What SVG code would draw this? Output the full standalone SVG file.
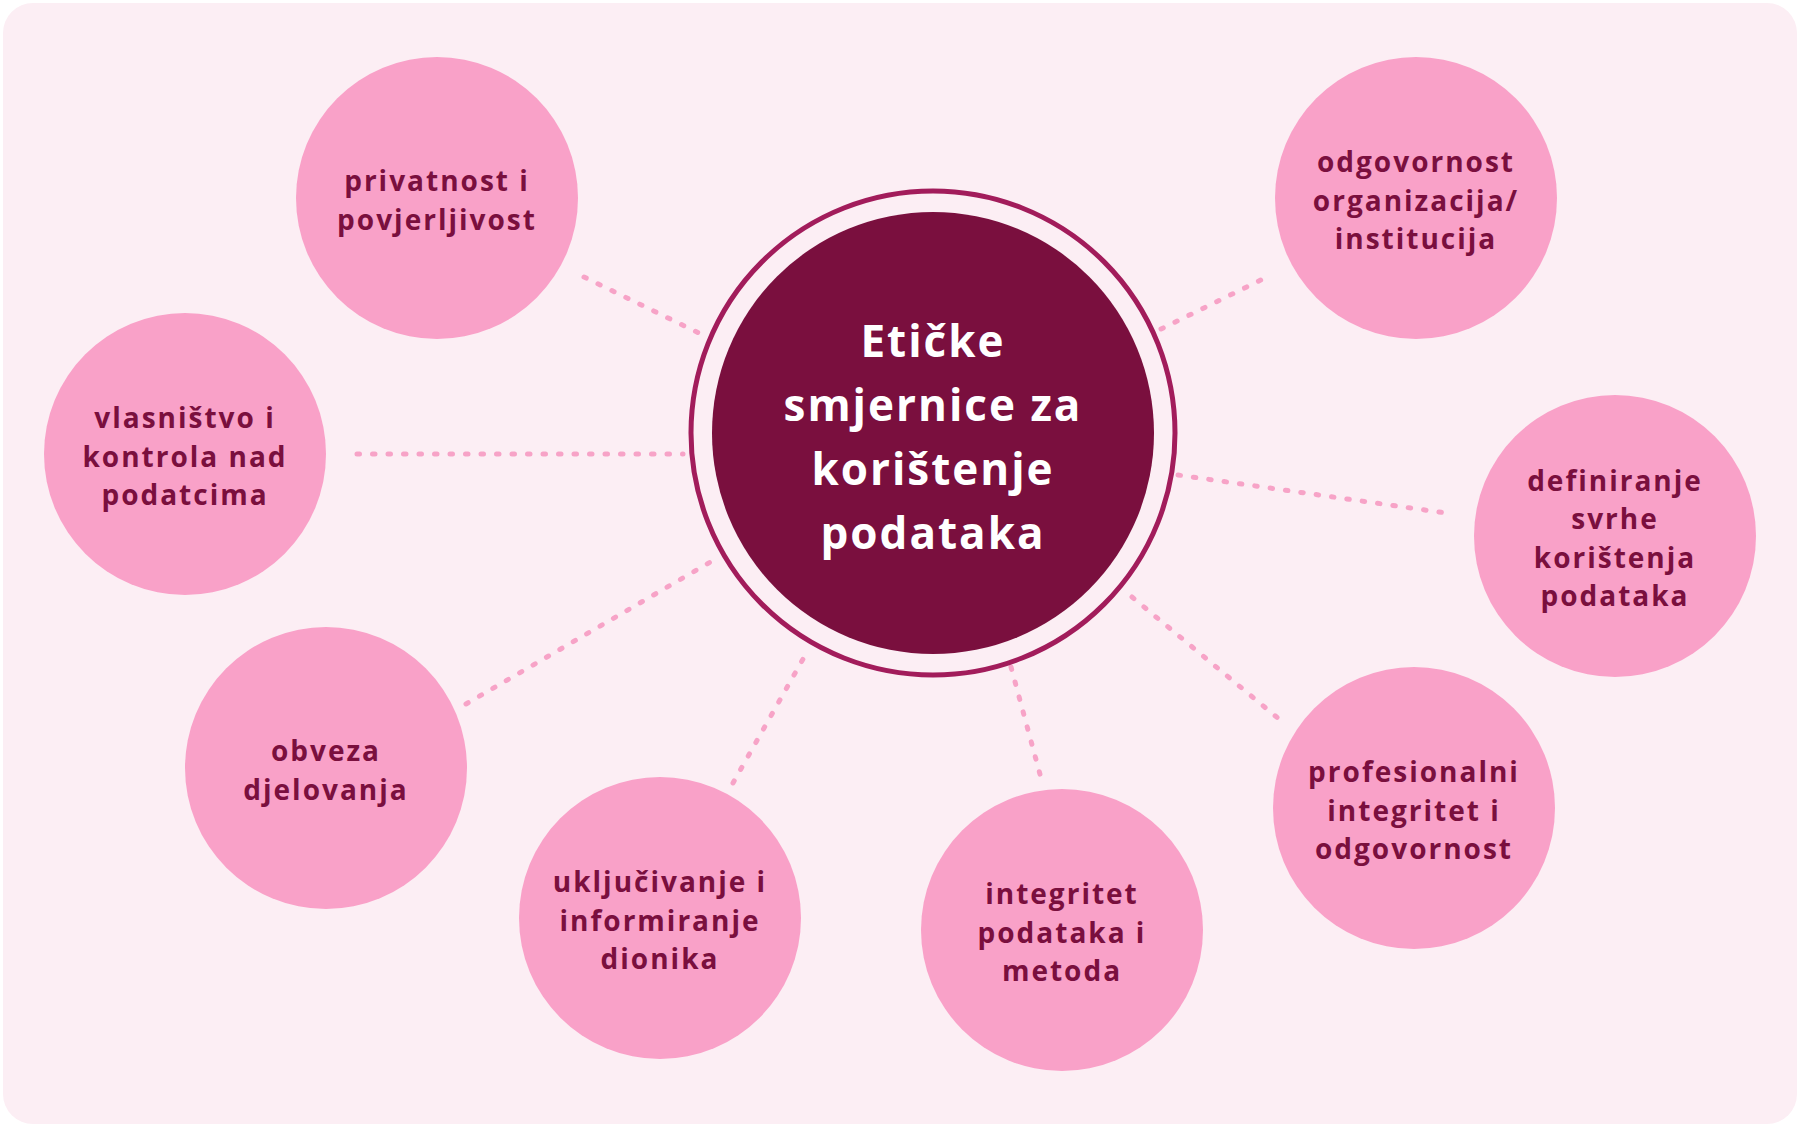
<svg xmlns="http://www.w3.org/2000/svg" width="1800" height="1128" viewBox="0 0 1800 1128">
<style>
.bg{fill:#FCEEF4}
.node{fill:#F9A1C8}
.lbl{font-family:"Open Sans","Noto Sans",sans-serif;font-weight:700;font-size:28px;fill:#7A0F3E;text-anchor:middle;letter-spacing:2px}
.title{font-family:"Open Sans","Noto Sans",sans-serif;font-weight:700;font-size:44px;fill:#FFFFFF;text-anchor:middle;letter-spacing:2px}
.conn line{stroke:#F7A3C7;stroke-width:5;stroke-linecap:round;stroke-dasharray:2.5 13}
</style>
<rect x="0" y="0" width="1800" height="1128" fill="#FFFFFF"/>
<rect class="bg" x="3" y="3" width="1794" height="1121" rx="30" ry="30"/>
<g id="connectors" class="conn">
<line x1="584" y1="277" x2="703" y2="335"/>
<line x1="357" y1="454" x2="683" y2="454"/>
<line x1="466" y1="704" x2="719" y2="557"/>
<line x1="733" y1="783" x2="807" y2="652"/>
<line x1="1011" y1="667" x2="1041" y2="778"/>
<line x1="1132" y1="597" x2="1285" y2="724"/>
<line x1="1178" y1="475" x2="1453" y2="514"/>
<line x1="1161" y1="329" x2="1267" y2="277"/>
</g>
<g id="center">
<circle cx="933" cy="433" r="242" fill="none" stroke="#A21C5B" stroke-width="5"/>
<circle cx="933" cy="433" r="221" fill="#7A0F3E"/>
<text class="title" x="933" y="357">Etičke</text>
<text class="title" x="933" y="421">smjernice za</text>
<text class="title" x="933" y="485">korištenje</text>
<text class="title" x="933" y="549">podataka</text>
</g>
<g id="n-privatnost">
<circle class="node" cx="437" cy="198" r="141"/>
<text class="lbl" x="437" y="191">privatnost i</text>
<text class="lbl" x="437" y="230">povjerljivost</text>
</g>
<g id="n-vlasnistvo">
<circle class="node" cx="185" cy="454" r="141"/>
<text class="lbl" x="185" y="428">vlasništvo i</text>
<text class="lbl" x="185" y="466.5">kontrola nad</text>
<text class="lbl" x="185" y="505">podatcima</text>
</g>
<g id="n-obveza">
<circle class="node" cx="326" cy="768" r="141"/>
<text class="lbl" x="326" y="761">obveza</text>
<text class="lbl" x="326" y="800">djelovanja</text>
</g>
<g id="n-ukljucivanje">
<circle class="node" cx="660" cy="918" r="141"/>
<text class="lbl" x="660" y="892">uključivanje i</text>
<text class="lbl" x="660" y="930.5">informiranje</text>
<text class="lbl" x="660" y="969">dionika</text>
</g>
<g id="n-integritet-podataka">
<circle class="node" cx="1062" cy="930" r="141"/>
<text class="lbl" x="1062" y="904">integritet</text>
<text class="lbl" x="1062" y="942.5">podataka i</text>
<text class="lbl" x="1062" y="981">metoda</text>
</g>
<g id="n-profesionalni">
<circle class="node" cx="1414" cy="808" r="141"/>
<text class="lbl" x="1414" y="782">profesionalni</text>
<text class="lbl" x="1414" y="820.5">integritet i</text>
<text class="lbl" x="1414" y="859">odgovornost</text>
</g>
<g id="n-definiranje">
<circle class="node" cx="1615" cy="536" r="141"/>
<text class="lbl" x="1615" y="491">definiranje</text>
<text class="lbl" x="1615" y="529">svrhe</text>
<text class="lbl" x="1615" y="568">korištenja</text>
<text class="lbl" x="1615" y="606">podataka</text>
</g>
<g id="n-odgovornost">
<circle class="node" cx="1416" cy="198" r="141"/>
<text class="lbl" x="1416" y="172">odgovornost</text>
<text class="lbl" x="1416" y="210.5">organizacija/</text>
<text class="lbl" x="1416" y="249">institucija</text>
</g>
</svg>
